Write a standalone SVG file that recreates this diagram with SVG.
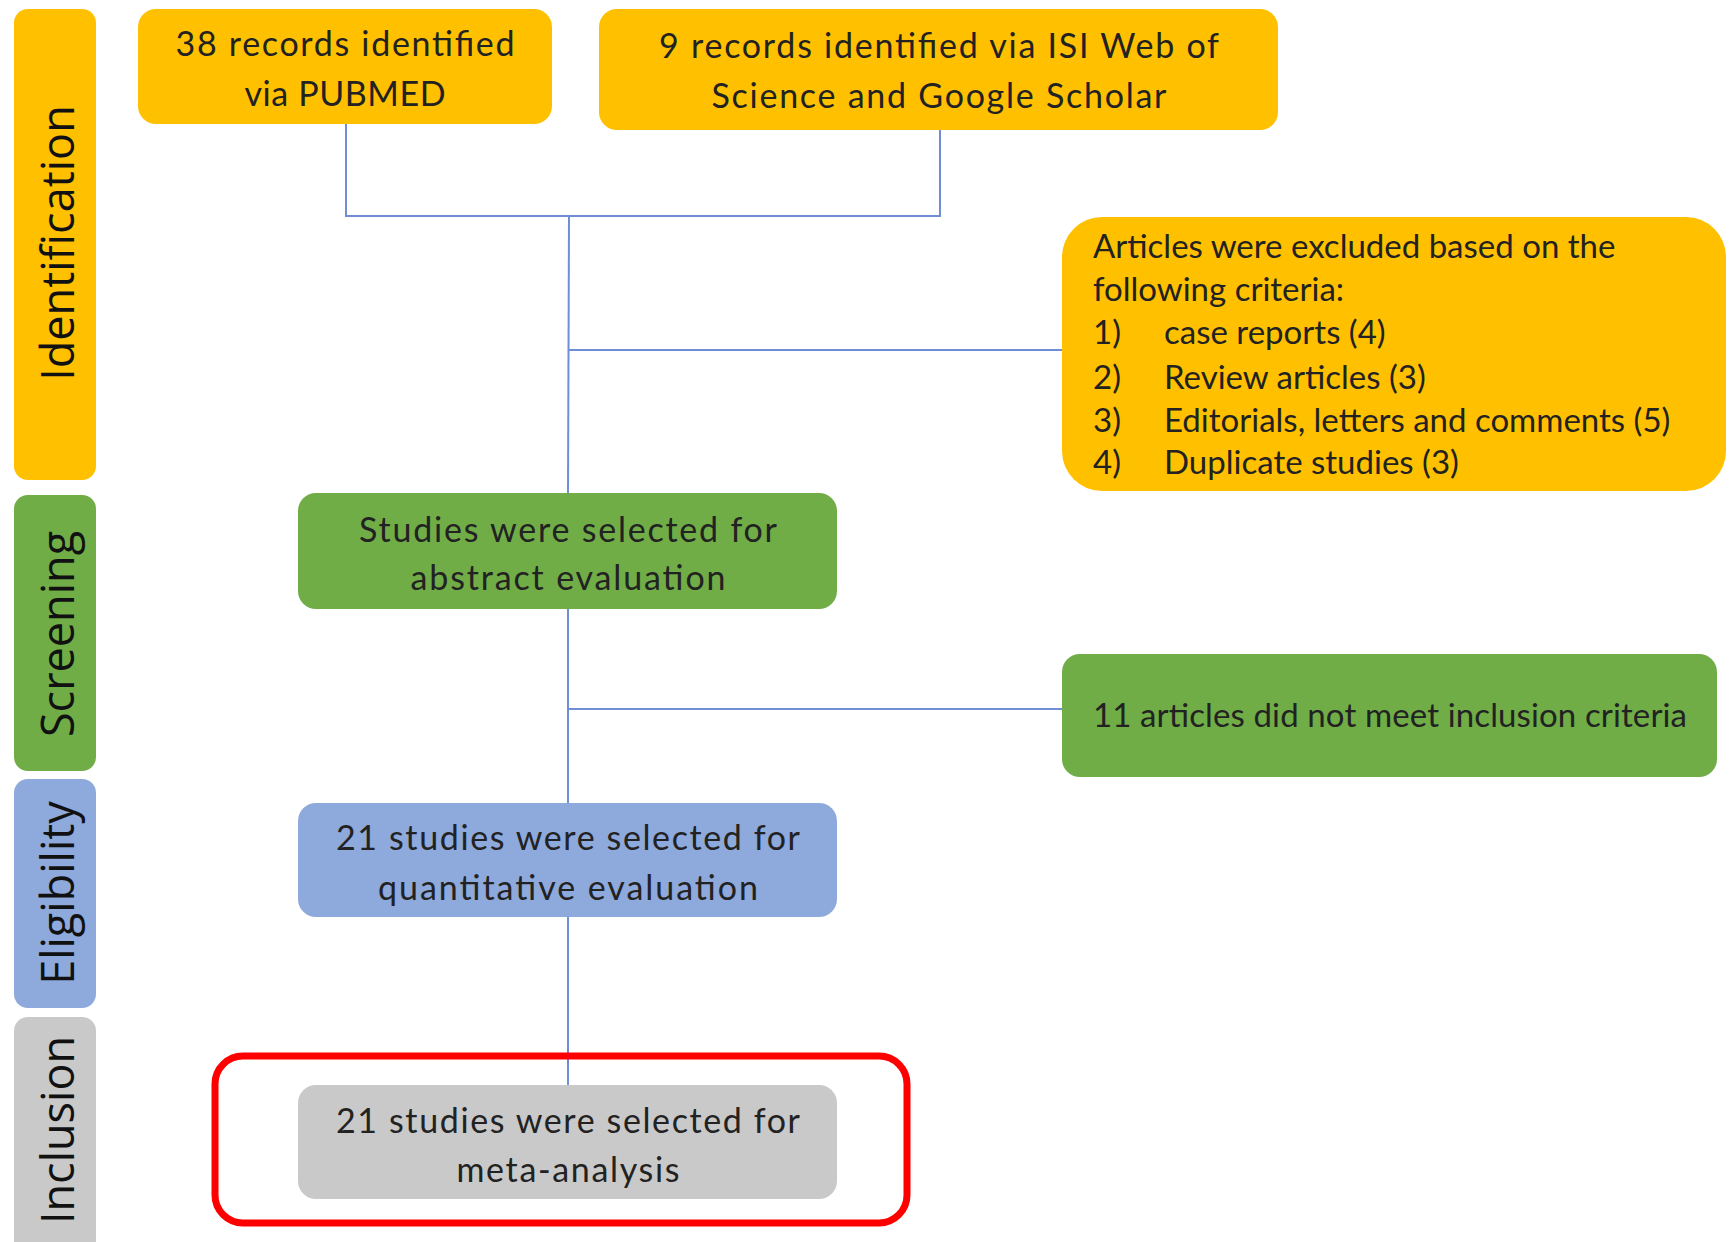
<svg xmlns="http://www.w3.org/2000/svg" width="1731" height="1242" viewBox="0 0 1731 1242">
<style>
.bar-y{fill:#FFC000}
.bar-g{fill:#70AD47}
.bar-b{fill:#8EA9DB}
.bar-s{fill:#C9C9C9}
.lbl{font-family:"Open Sans","DejaVu Sans",sans-serif;font-size:45px;fill:#111;text-anchor:middle}
.t{font-family:Lato,"Liberation Sans",sans-serif;font-size:33px;fill:#222}
.c{text-anchor:middle;font-size:34px}
.conn{stroke:#6F8ED6;stroke-width:2;fill:none}
</style>
<rect width="1731" height="1242" fill="#fff"/>
<g id="stage-identification">
<rect class="bar-y" x="14" y="9" width="82" height="471" rx="14"/>
<text class="lbl" transform="translate(74,243) rotate(-90)">Identification</text>
</g>
<g id="stage-screening">
<rect class="bar-g" x="14" y="495" width="82" height="276" rx="14"/>
<text class="lbl" transform="translate(74,634) rotate(-90)">Screening</text>
</g>
<g id="stage-eligibility">
<rect class="bar-b" x="14" y="779" width="82" height="229" rx="14"/>
<text class="lbl" transform="translate(74,893) rotate(-90)">Eligibility</text>
</g>
<g id="stage-inclusion">
<rect class="bar-s" x="14" y="1017" width="82" height="240" rx="14"/>
<text class="lbl" transform="translate(74,1130) rotate(-90)">Inclusion</text>
</g>
<g id="connectors">
<polyline class="conn" points="346,124 346,216 940,216 940,130"/>
<line class="conn" x1="569" y1="216" x2="568" y2="493"/>
<line class="conn" x1="568" y1="350" x2="1062" y2="350"/>
<line class="conn" x1="568" y1="609" x2="568" y2="803"/>
<line class="conn" x1="568" y1="709" x2="1062" y2="709"/>
<line class="conn" x1="568" y1="917" x2="568" y2="1085"/>
</g>
<g id="pubmed">
<rect class="bar-y" x="138" y="9" width="414" height="115" rx="18"/>
<text class="t c" x="345" y="56" textLength="339">38 records identified</text>
<text class="t c" x="345" y="106" textLength="201">via PUBMED</text>
</g>
<g id="isi">
<rect class="bar-y" x="599" y="9" width="679" height="121" rx="18"/>
<text class="t c" x="939" y="58" textLength="560">9 records identified via ISI Web of</text>
<text class="t c" x="939" y="108" textLength="455">Science and Google Scholar</text>
</g>
<g id="excluded">
<rect class="bar-y" x="1062" y="217" width="664" height="274" rx="40"/>
<text class="t" x="1093" y="258">Articles were excluded based on the</text>
<text class="t" x="1093" y="301">following criteria:</text>
<text class="t" x="1093" y="344">1)</text><text class="t" x="1164" y="344">case reports (4)</text>
<text class="t" x="1093" y="389">2)</text><text class="t" x="1164" y="389">Review articles (3)</text>
<text class="t" x="1093" y="432">3)</text><text class="t" x="1164" y="432">Editorials, letters and comments (5)</text>
<text class="t" x="1093" y="474">4)</text><text class="t" x="1164" y="474">Duplicate studies (3)</text>
</g>
<g id="abstract">
<rect class="bar-g" x="298" y="493" width="539" height="116" rx="18"/>
<text class="t c" x="568" y="542" textLength="418">Studies were selected for</text>
<text class="t c" x="568" y="590" textLength="315">abstract evaluation</text>
</g>
<g id="not-meet">
<rect class="bar-g" x="1062" y="654" width="655" height="123" rx="18"/>
<text class="t" x="1093" y="727" textLength="594">11 articles did not meet inclusion criteria</text>
</g>
<g id="quantitative">
<rect class="bar-b" x="298" y="803" width="539" height="114" rx="18"/>
<text class="t c" x="568" y="850" textLength="464">21 studies were selected for</text>
<text class="t c" x="568" y="900" textLength="380">quantitative evaluation</text>
</g>
<g id="meta">
<rect class="bar-s" x="298" y="1085" width="539" height="114" rx="18"/>
<text class="t c" x="568" y="1133" textLength="464">21 studies were selected for</text>
<text class="t c" x="568" y="1182" textLength="223">meta-analysis</text>
</g>
<g id="highlight">
<rect x="215" y="1056" width="692" height="167" rx="28" fill="none" stroke="#FF0000" stroke-width="7"/>
</g>
</svg>
